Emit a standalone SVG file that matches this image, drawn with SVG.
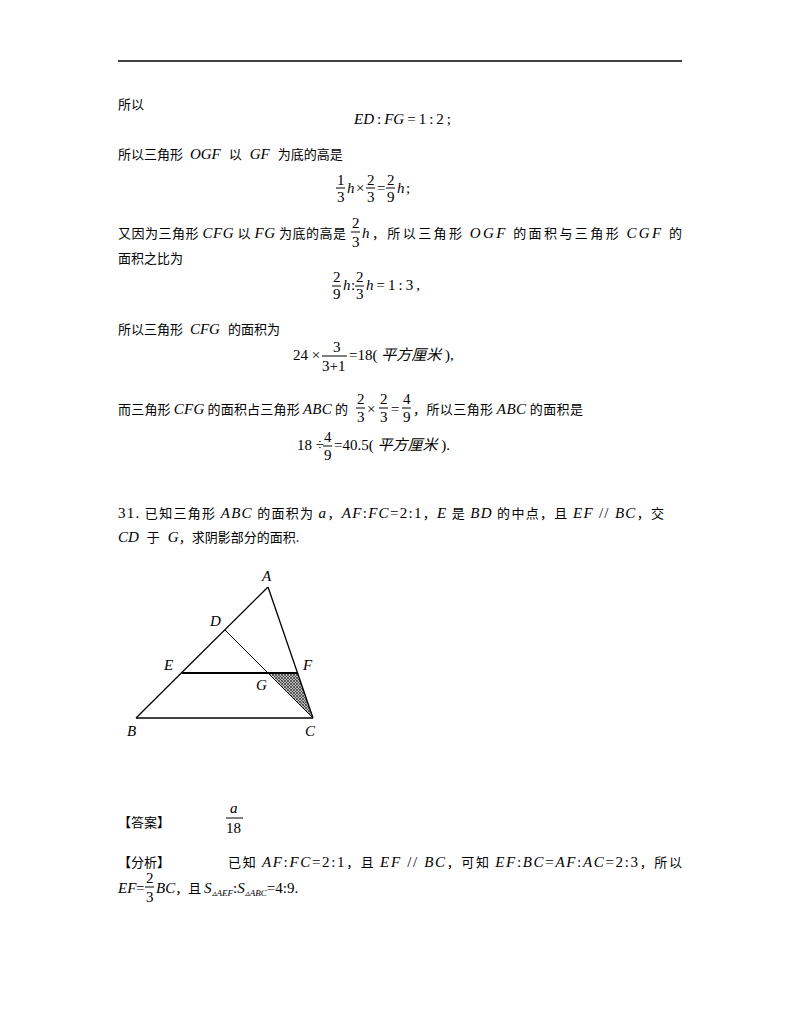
<svg xmlns="http://www.w3.org/2000/svg" width="800" height="1035" viewBox="0 0 800 1035">
<style>
text{font-family:"Noto Sans CJK SC","Liberation Sans",sans-serif;font-size:13px;fill:#000}
.m{font-family:"Liberation Serif",serif;font-size:15px}
.i{font-family:"Liberation Serif",serif;font-style:italic;font-size:15px}
.lb{font-family:"Liberation Serif",serif;font-style:italic;font-size:15px}
.u{font-style:italic}
.fr{stroke:#000;stroke-width:1}
.sub{font-family:"Liberation Serif",serif;font-style:italic;font-size:9px}
</style>
<defs>
<pattern id="hatch" width="3" height="3" patternUnits="userSpaceOnUse">
<rect width="3" height="3" fill="#bbb"/>
<path d="M0 0L3 3M3 0L0 3" stroke="#333" stroke-width="0.7"/>
</pattern>
</defs>
<rect width="800" height="1035" fill="#fff"/>
<line x1="118" y1="61" x2="682" y2="61" stroke="#000" stroke-width="1.5"/>

<text x="118" y="109">所以</text>
<text x="354" y="124"><tspan class="i">ED</tspan><tspan class="m">&#8201;:&#8201;</tspan><tspan class="i">FG</tspan><tspan class="m">&#8201;=&#8201;1&#8201;:&#8201;2&#8201;;</tspan></text>

<text x="118" y="159">所以三角形 <tspan class="i" dx="4">OGF</tspan><tspan dx="8">以</tspan><tspan class="i" dx="8">GF</tspan><tspan dx="8">为底的高是</tspan></text>
<text class="m" x="337" y="185">1</text><line class="fr" x1="336" y1="188" x2="345" y2="188"/><text class="m" x="337" y="202">3</text>
<text class="i" x="347" y="193">h</text><text class="m" x="356" y="193">×</text>
<text class="m" x="367" y="185">2</text><line class="fr" x1="366" y1="188" x2="375" y2="188"/><text class="m" x="367" y="202">3</text>
<text class="m" x="377" y="193">=</text>
<text class="m" x="387" y="185">2</text><line class="fr" x1="386" y1="188" x2="395" y2="188"/><text class="m" x="387" y="202">9</text>
<text class="i" x="397" y="193">h</text><text class="m" x="406" y="193">;</text>

<text x="118" y="238" textLength="228" lengthAdjust="spacing">又因为三角形 <tspan class="i">CFG</tspan> 以 <tspan class="i">FG</tspan> 为底的高是</text>
<text class="m" x="352" y="228">2</text><line class="fr" x1="351" y1="232" x2="360" y2="232"/><text class="m" x="352" y="247">3</text>
<text x="362" y="238" textLength="320" lengthAdjust="spacing"><tspan class="i">h</tspan>，所以三角形 <tspan class="i">OGF</tspan> 的面积与三角形 <tspan class="i">CGF</tspan> 的</text>
<text x="118" y="263">面积之比为</text>
<text class="m" x="333" y="282">2</text><line class="fr" x1="332" y1="286" x2="341" y2="286"/><text class="m" x="333" y="299">9</text>
<text class="i" x="343" y="290">h</text><text class="m" x="351" y="290">:</text>
<text class="m" x="356" y="282">2</text><line class="fr" x1="355" y1="286" x2="364" y2="286"/><text class="m" x="356" y="299">3</text>
<text x="366" y="290"><tspan class="i">h</tspan><tspan class="m">&#8201;=&#8201;1&#8201;:&#8201;3&#8201;,</tspan></text>

<text x="118" y="334">所以三角形 <tspan class="i" dx="4">CFG</tspan><tspan dx="8">的面积为</tspan></text>
<text class="m" x="293" y="360">24 ×</text>
<text class="m" x="333" y="352">3</text><line class="fr" x1="322" y1="356" x2="347" y2="356"/><text class="m" x="322" y="371">3+1</text>
<text x="349" y="360"><tspan class="m">=18( </tspan><tspan class="u" font-size="15">平方厘米</tspan><tspan class="m"> ),</tspan></text>

<text x="118" y="414" textLength="230" lengthAdjust="spacing">而三角形 <tspan class="i">CFG</tspan> 的面积占三角形 <tspan class="i">ABC</tspan> 的</text>
<text class="m" x="357" y="404">2</text><line class="fr" x1="356" y1="408" x2="365" y2="408"/><text class="m" x="357" y="422">3</text>
<text class="m" x="367" y="414">×</text>
<text class="m" x="380" y="404">2</text><line class="fr" x1="379" y1="408" x2="388" y2="408"/><text class="m" x="380" y="422">3</text>
<text class="m" x="391" y="414">=</text>
<text class="m" x="403" y="404">4</text><line class="fr" x1="402" y1="408" x2="411" y2="408"/><text class="m" x="403" y="422">9</text>
<text x="413" y="414" textLength="170" lengthAdjust="spacing">，所以三角形 <tspan class="i">ABC</tspan> 的面积是</text>

<text class="m" x="297" y="450">18 ÷</text>
<text class="m" x="324" y="442">4</text><line class="fr" x1="323" y1="446" x2="332" y2="446"/><text class="m" x="324" y="460">9</text>
<text x="334" y="450"><tspan class="m">=40.5( </tspan><tspan class="u" font-size="15">平方厘米</tspan><tspan class="m"> ).</tspan></text>

<text x="118" y="518" textLength="546" lengthAdjust="spacing"><tspan class="m">31.</tspan> 已知三角形 <tspan class="i">ABC</tspan> 的面积为 <tspan class="i">a</tspan>，<tspan class="i">AF</tspan><tspan class="m">:</tspan><tspan class="i">FC</tspan><tspan class="m">=2:1</tspan>，<tspan class="i">E</tspan> 是 <tspan class="i">BD</tspan> 的中点，且 <tspan class="i">EF</tspan><tspan class="m"> // </tspan><tspan class="i">BC</tspan>，交</text>
<text x="118" y="542"><tspan class="i">CD</tspan><tspan dx="8">于</tspan><tspan class="i" dx="8">G</tspan>，求阴影部分的面积.</text>

<g id="figure">
<polygon id="shade" points="269,673 298,673 313,718" fill="url(#hatch)"/>
<g id="connectors" stroke="#000" fill="none">
<line x1="136" y1="718" x2="313" y2="718" stroke-width="1.3"/>
<line x1="136" y1="718" x2="268" y2="587" stroke-width="1.3"/>
<line x1="268" y1="587" x2="313" y2="718" stroke-width="1.3"/>
<line x1="225" y1="630" x2="313" y2="718" stroke-width="1"/>
<line x1="182" y1="673" x2="298" y2="673" stroke-width="2.2"/>
</g>
<g id="labels">
<text class="lb" x="262" y="581">A</text>
<text class="lb" x="210" y="626">D</text>
<text class="lb" x="164" y="670">E</text>
<text class="lb" x="303" y="670">F</text>
<text class="lb" x="256" y="690">G</text>
<text class="lb" x="127" y="736">B</text>
<text class="lb" x="305" y="736">C</text>
</g>
</g>

<text x="118" y="827">【答案】</text>
<text class="i" x="230" y="813">a</text><line class="fr" x1="226" y1="818" x2="243" y2="818"/><text class="m" x="226" y="833">18</text>

<text x="118" y="867">【分析】</text>
<text x="228" y="867" textLength="454" lengthAdjust="spacing">已知 <tspan class="i">AF</tspan><tspan class="m">:</tspan><tspan class="i">FC</tspan><tspan class="m">=2:1</tspan>，且 <tspan class="i">EF</tspan><tspan class="m"> // </tspan><tspan class="i">BC</tspan>，可知 <tspan class="i">EF</tspan><tspan class="m">:</tspan><tspan class="i">BC</tspan><tspan class="m">=</tspan><tspan class="i">AF</tspan><tspan class="m">:</tspan><tspan class="i">AC</tspan><tspan class="m">=2:3</tspan>，所以</text>
<text class="i" x="118" y="893">EF</text><text class="m" x="136" y="893">=</text>
<text class="m" x="146" y="883">2</text><line class="fr" x1="145" y1="887" x2="154" y2="887"/><text class="m" x="146" y="902">3</text>
<text x="156" y="893"><tspan class="i">BC</tspan>，且 <tspan class="i">S</tspan><tspan class="sub" dy="3">▵AEF</tspan><tspan class="m" dy="-3">:</tspan><tspan class="i">S</tspan><tspan class="sub" dy="3">▵ABC</tspan><tspan class="m" dy="-3">=4:9.</tspan></text>
</svg>
